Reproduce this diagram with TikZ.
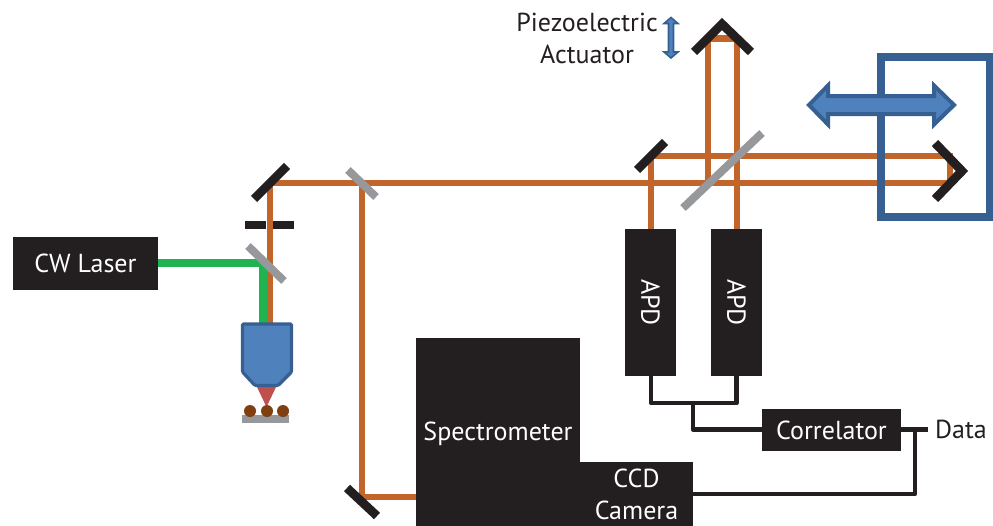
\documentclass[tikz,border=0pt]{standalone}
\usepackage{fontspec}
\setmainfont{PT Sans}
\usetikzlibrary{positioning,calc}
\definecolor{beamorange}{HTML}{C1652B}
\definecolor{beamgreen}{HTML}{21B352}
\definecolor{mirrorgray}{HTML}{97989B}
\definecolor{boxblack}{HTML}{231F20}
\definecolor{stagefill}{HTML}{4F81BD}
\definecolor{stageedge}{HTML}{376092}
\definecolor{conered}{HTML}{C0504D}
\definecolor{dotbrown}{HTML}{7F3F0F}
\tikzset{
  blackbox/.style={rectangle,fill=boxblack,text=white,inner sep=0pt},
  label text/.style={text=boxblack,inner sep=0pt,align=center},
  orange beam/.style={draw=beamorange,line width=0.15cm},
  green beam/.style={draw=beamgreen,line width=0.18cm},
  mirror/.style={draw=boxblack,line width=0.22cm},
  splitter/.style={draw=mirrorgray,line width=0.2cm},
  signal/.style={draw=boxblack,line width=0.11cm,line join=round},
  stage/.style={draw=stageedge,fill=stagefill,line join=miter}
}
\begin{document}
\begin{tikzpicture}[x=0.025cm,y=-0.025cm,font=\fontsize{18.5}{22.7}\selectfont]
  \useasboundingbox (0,0) rectangle (993,526);
  % boxes
  \node[blackbox,minimum width=3.625cm,minimum height=1.325cm] (laser) at (85.5,263.5) {CW Laser};
  \node[blackbox,minimum width=1.275cm,minimum height=3.675cm] (apdl) at (650.5,302.5) {\rotatebox{-90}{APD}};
  \node[blackbox,minimum width=1.275cm,minimum height=3.675cm] (apdr) at (736.5,302.5) {\rotatebox{-90}{APD}};
  \node[blackbox,minimum width=4.1cm,minimum height=4.8cm] (spec) at (498,434) {Spectrometer};
  \node[blackbox,minimum width=2.825cm,minimum height=1.625cm,align=center] (ccd) at (636.5,494.5) {CCD\\Camera};
  \node[blackbox,minimum width=3.475cm,minimum height=1.05cm] (corr) at (831.5,430) {Correlator};
  \node[label text] (data) at (961,429) {Data};
  \node[label text] (piezo) at (587,38) {Piezoelectric\\Actuator};
  % points on the beams
  \coordinate (turn) at (269.5,183);
  \coordinate (pick) at (362,183);
  \coordinate (low) at (362,497);
  \coordinate (combine) at (263,263);
  \coordinate (objtop) at (263,323);
  \coordinate (objtopb) at (269.5,323);
  \coordinate (backa) at (950,183);
  \coordinate (backb) at (950,156);
  \coordinate (fold) at (651,156);
  \coordinate (upa) at (708,183);
  \coordinate (upb) at (708,38.5);
  \coordinate (upc) at (737,38.5);
  \coordinate (join) at (693,403);
  \coordinate (merge) at (915,429.5);
  % beams
  \draw[green beam] (laser.east |- combine) -- (combine) -- (objtop);
  \draw[orange beam] (objtopb) -- (turn) -- (backa) -- (backb) -- (fold) -- (fold |- apdl.north);
  \draw[orange beam] (pick) -- (low) -- (low -| spec.west);
  \draw[orange beam] (upa) -- (upb) -- (upc) -- (upc |- apdr.north);
  % mirrors
  \draw[mirror] (254,199) -- (287,166);
  \draw[mirror] (245,225) -- (265.5,225);
  \draw[mirror] (273,225) -- (294,225);
  \draw[mirror] (347,488) -- (377,516);
  \draw[mirror] (637,170) -- (665,142);
  \draw[mirror,line join=miter] (694,52) -- (722,24) -- (751,52);
  \draw[mirror,line join=miter] (935,143) -- (962,171) -- (935,199);
  \draw[splitter] (248,246) -- (284,281);
  \draw[splitter] (348,170) -- (376,197);
  \draw[splitter] (683,208) -- (762,133);
  % objective and sample
  \fill[conered] (256,385) -- (277,385) -- (266.5,407) -- cycle;
  \fill[mirrorgray] (242,415) rectangle (288.5,423);
  \foreach \dotx in {250,267,283}
    \fill[dotbrown] (\dotx,411) circle (0.15cm);
  \draw[stage,line width=0.08cm,rounded corners=0.03cm] (242.5,324) -- (291.5,324) -- (291.5,372) -- (278,385.5) -- (255,385.5) -- (242.5,372) -- cycle;
  % signal lines
  \draw[signal] (apdl.south -| fold) -- (fold |- join) -- (join -| apdr.south) -- (apdr.south);
  \draw[signal] (join) -- (join |- merge) -- (corr.west |- merge);
  \draw[signal] (corr.east |- merge) -- (928,429.5);
  \draw[signal] (merge) -- (915,494) -- (ccd.east |- 0,494);
  % moving stage
  \draw[draw=stageedge,line width=0.19cm] (881,57) rectangle (990,217);
  \draw[stage,line width=0.1cm] (809,105) -- (828,85.5) -- (828,96) -- (934,96) -- (934,85.5) -- (954,105) -- (934,124.5) -- (934,114) -- (828,114) -- (828,124.5) -- cycle;
  \draw[stage,line width=0.04cm] (671,17.5) -- (678,23.5) -- (673.5,23.5) -- (673.5,52) -- (678,52) -- (671,58) -- (664,52) -- (668.5,52) -- (668.5,23.5) -- (664,23.5) -- cycle;
\end{tikzpicture}
\end{document}
